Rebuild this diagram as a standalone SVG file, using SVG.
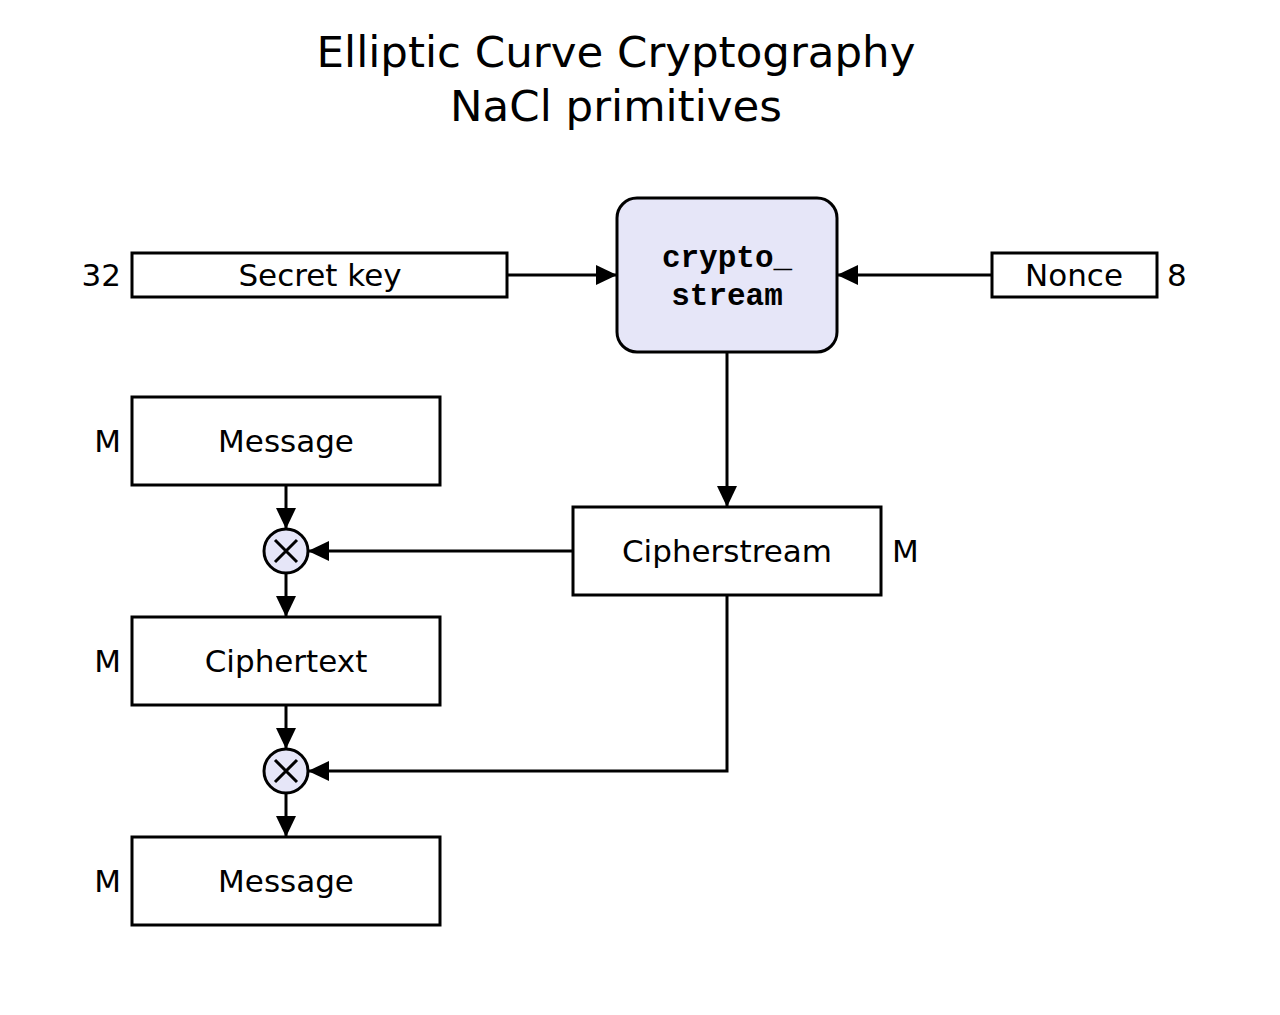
<svg xmlns="http://www.w3.org/2000/svg" width="1280" height="1015" viewBox="0 0 1280 1015">
<style>
.t{font-family:"DejaVu Sans",sans-serif;font-size:31px;fill:#000}
.title{font-family:"DejaVu Sans",sans-serif;font-size:43.5px;fill:#000;text-anchor:middle}
.box{fill:#fff;stroke:#000;stroke-width:3}
.mono{font-family:"Liberation Mono","Courier New",monospace;font-weight:bold;font-size:31px;text-anchor:middle}
.c{text-anchor:middle}
.e{text-anchor:end}
.ln{fill:none;stroke:#000;stroke-width:3}
</style>
<defs>
<marker id="a" markerUnits="userSpaceOnUse" markerWidth="22" markerHeight="22" viewBox="0 0 22 22" refX="21" refY="11" orient="auto">
<path d="M0,1 L21,11 L0,21 Z" fill="#000"/>
</marker>
</defs>
<rect width="1280" height="1015" fill="#fff"/>
<text class="title" x="616" y="67">Elliptic Curve Cryptography</text>
<text class="title" x="616" y="121">NaCl primitives</text>
<g id="connectors">
<path class="ln" d="M507,275 H617" marker-end="url(#a)"/>
<path class="ln" d="M992,275 H837" marker-end="url(#a)"/>
<path class="ln" d="M727,352 V507" marker-end="url(#a)"/>
<path class="ln" d="M286,485 V529" marker-end="url(#a)"/>
<path class="ln" d="M573,551 H308" marker-end="url(#a)"/>
<path class="ln" d="M286,573 V617" marker-end="url(#a)"/>
<path class="ln" d="M286,705 V749" marker-end="url(#a)"/>
<path class="ln" d="M727,595 V771 H308" marker-end="url(#a)"/>
<path class="ln" d="M286,793 V837" marker-end="url(#a)"/>
</g>
<g id="secretkey">
<rect class="box" x="132" y="253" width="375" height="44"/>
<text class="t c" x="320" y="286">Secret key</text>
<text class="t e" x="121" y="286">32</text>
</g>
<g id="cryptostream">
<rect x="617" y="198" width="220" height="154" rx="20" fill="#e6e6f8" stroke="#000" stroke-width="3"/>
<text class="mono" x="727" y="267">crypto_</text>
<text class="mono" x="727" y="305">stream</text>
</g>
<g id="nonce">
<rect class="box" x="992" y="253" width="165" height="44"/>
<text class="t c" x="1074" y="286">Nonce</text>
<text class="t" x="1167" y="286">8</text>
</g>
<g id="message1">
<rect class="box" x="132" y="397" width="308" height="88"/>
<text class="t c" x="286" y="452">Message</text>
<text class="t e" x="121" y="452">M</text>
</g>
<g id="xor1">
<circle cx="286" cy="551" r="22" fill="#e6e6f8" stroke="#000" stroke-width="3"/>
<path class="ln" d="M275,540 L297,562 M297,540 L275,562" stroke-width="2"/>
</g>
<g id="cipherstream">
<rect class="box" x="573" y="507" width="308" height="88"/>
<text class="t c" x="727" y="562">Cipherstream</text>
<text class="t" x="892" y="562">M</text>
</g>
<g id="ciphertext">
<rect class="box" x="132" y="617" width="308" height="88"/>
<text class="t c" x="286" y="672">Ciphertext</text>
<text class="t e" x="121" y="672">M</text>
</g>
<g id="xor2">
<circle cx="286" cy="771" r="22" fill="#e6e6f8" stroke="#000" stroke-width="3"/>
<path class="ln" d="M275,760 L297,782 M297,760 L275,782" stroke-width="2"/>
</g>
<g id="message2">
<rect class="box" x="132" y="837" width="308" height="88"/>
<text class="t c" x="286" y="892">Message</text>
<text class="t e" x="121" y="892">M</text>
</g>
</svg>
